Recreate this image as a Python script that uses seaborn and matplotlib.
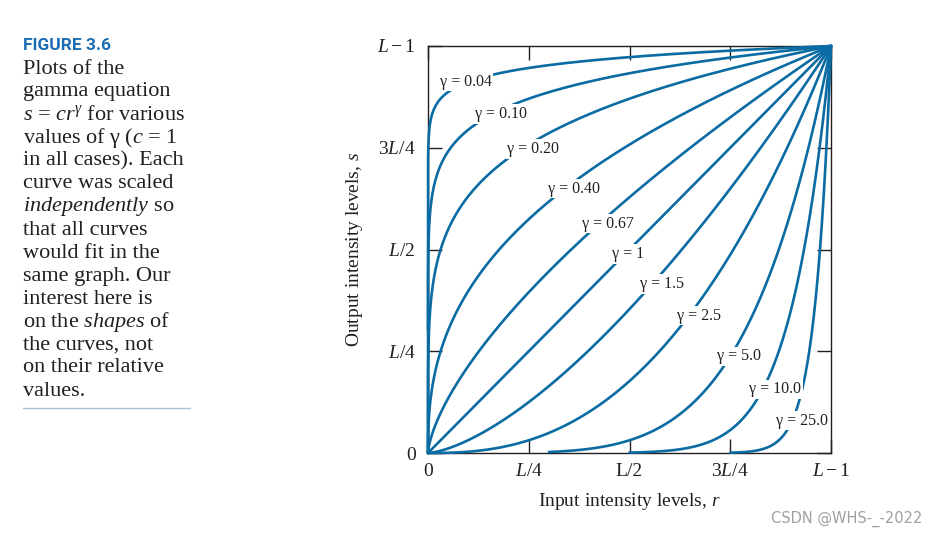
import numpy as np
import pandas as pd
import matplotlib
matplotlib.use("Agg")
import matplotlib.pyplot as plt
import seaborn as sns

# ---- data ----
gammas = [0.04, 0.10, 0.20, 0.40, 0.67, 1.0, 1.5, 2.5, 5.0, 10.0, 25.0]
gamma_labels = ["0.04", "0.10", "0.20", "0.40", "0.67", "1", "1.5", "2.5", "5.0", "10.0", "25.0"]
# first input level at which each curve is drawn
r_start = [1e-13, 0, 0, 0, 0, 0, 0, 0, 0.30, 0.50, 0.75]
# label centres (r, s)
label_x = [0.094, 0.181, 0.261, 0.362, 0.447, 0.496, 0.581, 0.673, 0.772, 0.861, 0.928]
label_y = [0.912, 0.833, 0.747, 0.649, 0.563, 0.489, 0.415, 0.337, 0.238, 0.157, 0.079]
tick_pos = [0, 0.25, 0.5, 0.75, 1.0]
xtick_labels = ["0", r"$L/4$", "L/2", r"$3L/4$", r"$L-1$"]
ytick_labels = ["0", r"$L/4$", r"$L/2$", r"$3L/4$", r"$L-1$"]
caption_lines = [
    "Plots of the", "gamma equation", r"$s$ = $cr^{\gamma}$ for various",
    "values of γ ($c$ = 1", "in all cases). Each", "curve was scaled",
    r"$independently$ so", "that all curves", "would fit in the",
    "same graph. Our", "interest here is", r"on the $shapes$ of",
    "the curves, not", "on their relative", "values.",
]

base_r = np.unique(np.concatenate([np.geomspace(1e-13, 1, 600), np.linspace(0, 1, 1000)]))
rows = []
for g, r0 in zip(gammas, r_start):
    r = base_r[base_r >= r0]
    if r0 > 0 and r[0] > r0:
        r = np.concatenate([[r0], r])
    rows.append(pd.DataFrame({"r": r, "s": r ** g, "gamma": str(g)}))
df = pd.concat(rows, ignore_index=True)

sns.set_theme(style="white")
plt.rcParams["font.family"] = ["Liberation Serif", "DejaVu Serif"]
plt.rcParams["mathtext.fontset"] = "custom"
plt.rcParams["mathtext.rm"] = "Liberation Serif"
plt.rcParams["mathtext.it"] = "Liberation Serif:italic"
plt.rcParams["mathtext.bf"] = "Liberation Serif:bold"

BLUE = "#0b6ba3"
INK = "#231f20"
fig = plt.figure(figsize=(9.38, 5.36), dpi=100)
ax = fig.add_axes([428 / 938, 1 - 453 / 536, 403 / 938, 407 / 536])

sns.lineplot(data=df, x="r", y="s", hue="gamma", palette=[BLUE] * len(gammas),
             estimator=None, sort=True, legend=False, linewidth=1.9, ax=ax)
for ln in ax.lines:
    ln.set_clip_on(False)
    ln.set_zorder(3)

for lab, lx, ly in zip(gamma_labels, label_x, label_y):
    ax.text(lx, ly, "γ = " + lab, fontsize=11.5, ha="center", va="center",
            color=INK, zorder=5,
            bbox=dict(boxstyle="square,pad=0.1", facecolor="white", edgecolor="none"))

ax.set_xlim(0, 1)
ax.set_ylim(0, 1)
ax.set_xticks(tick_pos)
ax.set_yticks(tick_pos)
ax.set_xticklabels(xtick_labels, fontsize=14)
ax.set_yticklabels(ytick_labels, fontsize=14)
ax.tick_params(direction="in", length=10, width=1, color=INK,
               top=True, right=True, bottom=True, left=True,
               labelcolor=INK)
ax.tick_params(axis="x", pad=7)
ax.tick_params(axis="y", pad=9)
for sp in ax.spines.values():
    sp.set_color(INK)
    sp.set_linewidth(1.0)
    sp.set_zorder(2)
ax.set_xlabel(r"Input intensity levels, $r$", fontsize=14, color=INK, labelpad=8)
ax.set_ylabel(r"Output intensity levels, $s$", fontsize=14, color=INK, labelpad=9)

# caption
fig.text(23 / 938, 1 - 45 / 536, "FIGURE 3.6", fontsize=12.5, fontweight="bold",
         family=["Roboto", "DejaVu Sans"], color="#1d6db3", va="center")
for i, line in enumerate(caption_lines):
    fig.text(23 / 938, 1 - (69 + i * 23.0) / 536, line, fontsize=16, color=INK,
             va="center")
fig.add_artist(plt.Line2D([23 / 938, 190 / 938], [1 - 408 / 536, 1 - 408 / 536],
                          color="#aabfd6", linewidth=1.0))

fig.text(922 / 938, 1 - 519 / 536, "CSDN @WHS-_-2022", fontsize=10.5,
         family=["DejaVu Sans"], color="#a0a0a0", ha="right", va="center")

fig.savefig("out.png", dpi=100, facecolor="white")
